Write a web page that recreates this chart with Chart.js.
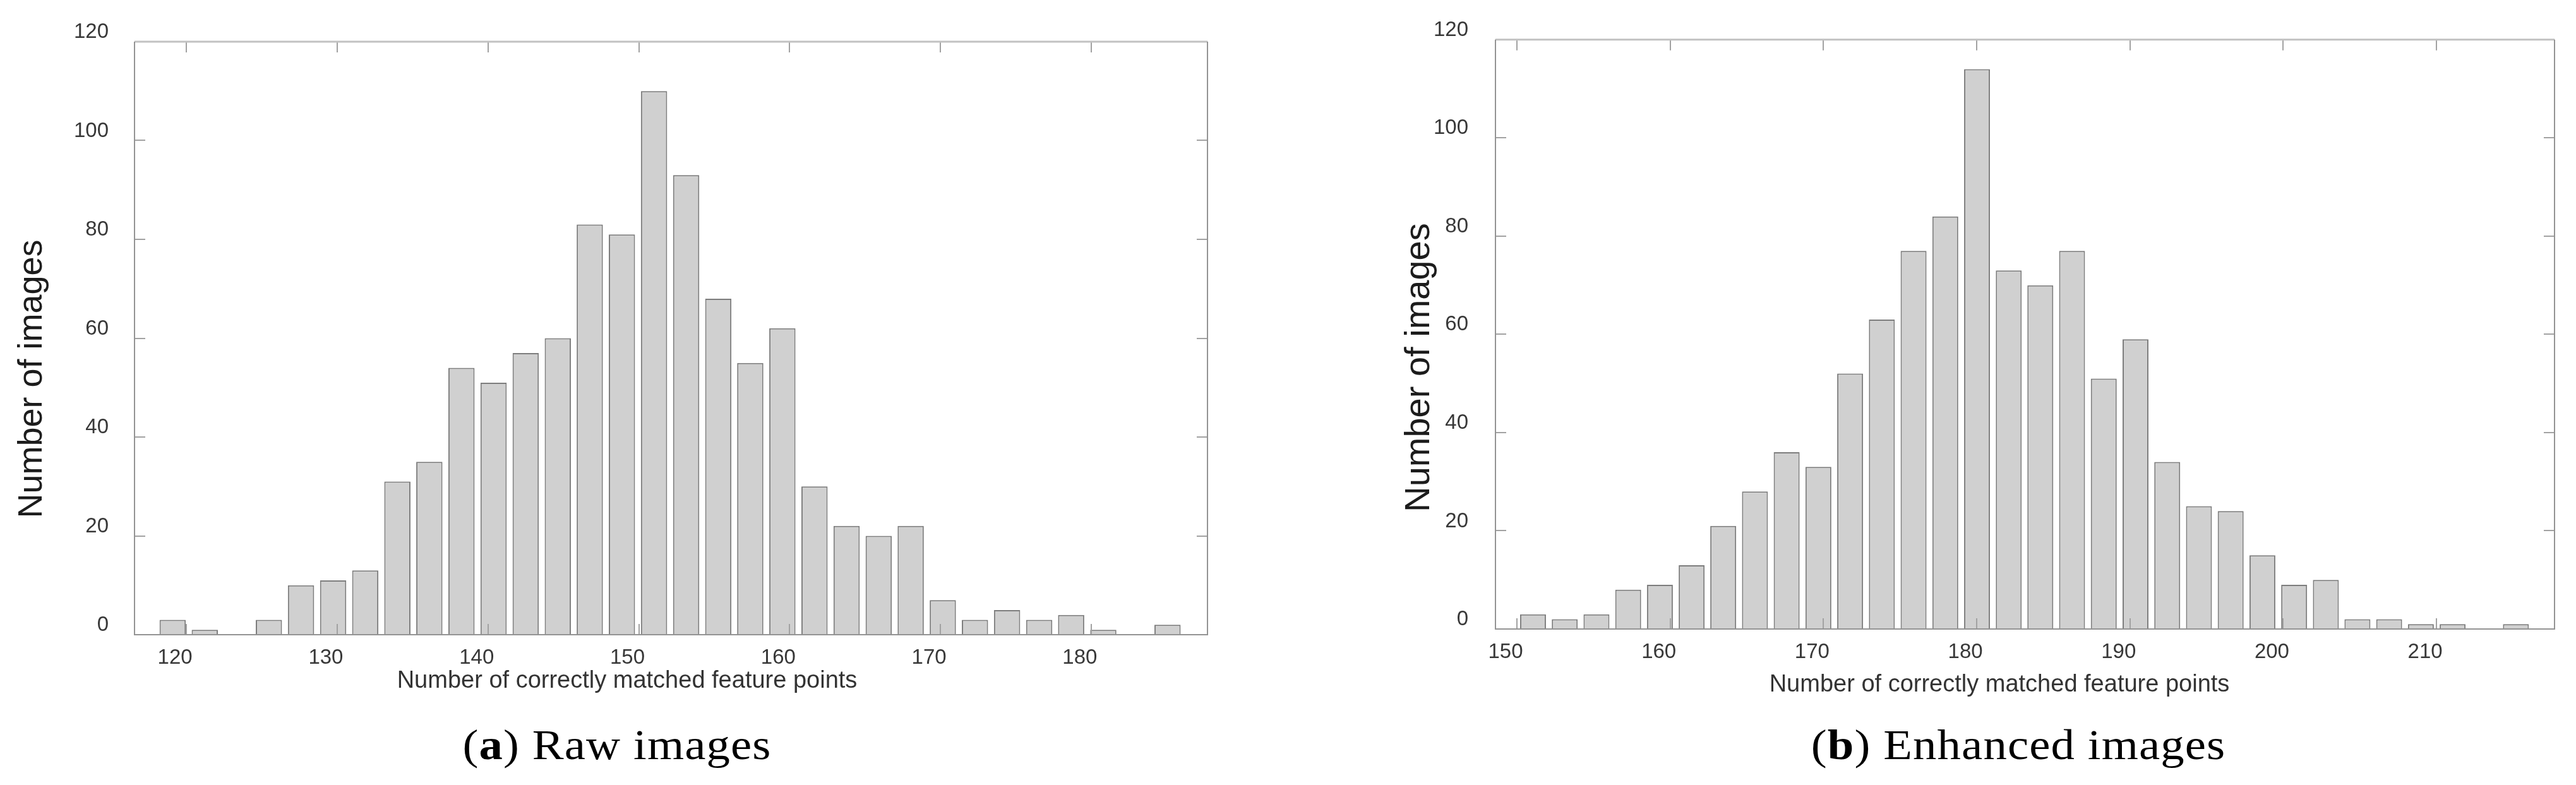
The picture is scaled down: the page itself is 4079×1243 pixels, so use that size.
<!DOCTYPE html>
<html>
<head>
<meta charset="utf-8">
<script src="https://cdn.jsdelivr.net/npm/chart.js@4.4.1/dist/chart.umd.min.js"></script>
<style>
  html, body { margin: 0; padding: 0; background: #fff; }
  body { width: 4079px; height: 1243px; position: relative; overflow: hidden; }
  canvas { position: absolute; top: 0; }
  #chartRaw { left: 0; }
  #chartEnh { left: 2040px; }
  .caption {
    position: absolute; top: 1145px;
    font-family: "Liberation Serif", "DejaVu Serif", serif;
    font-size: 68px; line-height: 68px; color: #000;
    white-space: nowrap; letter-spacing: 1px;
    transform: translateX(-50%) scaleX(1.1);
  }
</style>
</head>
<body>
<canvas id="chartRaw" width="2000" height="1243"></canvas>
<canvas id="chartEnh" width="2039" height="1243"></canvas>
<div class="caption" style="left:977px">(<b>a</b>) Raw images</div>
<div class="caption" style="left:3196px">(<b>b</b>) Enhanced images</div>
<script>
// (a) raw images: bin centres and counts
const binsRaw = [119.09, 121.22, 123.35, 125.47, 127.60, 129.73, 131.86, 133.99,
  136.11, 138.24, 140.37, 142.50, 144.63, 146.75, 148.88, 151.01, 153.14, 155.27,
  157.39, 159.52, 161.65, 163.78, 165.91, 168.03, 170.16, 172.29, 174.42, 176.55,
  178.67, 180.80, 182.93, 185.06];
const countsRaw = [3, 1, 0, 3, 10, 11, 13, 31, 35, 54, 51, 57, 60, 83, 81, 110,
  93, 68, 55, 62, 30, 22, 20, 22, 7, 3, 5, 3, 4, 1, 0, 2];

// (b) enhanced images
const binsEnh = [151.05, 153.12, 155.19, 157.26, 159.33, 161.40, 163.46, 165.53,
  167.60, 169.67, 171.74, 173.81, 175.88, 177.95, 180.02, 182.09, 184.15, 186.22,
  188.29, 190.36, 192.43, 194.50, 196.57, 198.64, 200.71, 202.78, 204.84, 206.91,
  208.98, 211.05, 213.12, 215.18];
const countsEnh = [3, 2, 3, 8, 9, 13, 21, 28, 36, 33, 52, 63, 77, 84, 114, 73,
  70, 77, 51, 59, 34, 25, 24, 15, 9, 10, 2, 2, 1, 1, 0, 1];

const xTicksRaw = [120, 130, 140, 150, 160, 170, 180];
const xTicksEnh = [150, 160, 170, 180, 190, 200, 210];
const yTicks = [0, 20, 40, 60, 80, 100, 120];

const yTitle = "Number of images";
const xTitle = "Number of correctly matched feature points";

const tickFont = { family: "'Liberation Sans', Arial, sans-serif", size: 33 };

// box around the plot, inward tick marks and the two axis titles
const frameTicks = {
  id: "frameTicks",
  afterDraw(chart, args, opts) {
    const { ctx, chartArea: a } = chart;
    const xs = chart.scales.x, ys = chart.scales.y;
    const len = 17;
    ctx.save();
    ctx.strokeStyle = "#a2a2a2";
    ctx.lineWidth = 2;
    ctx.beginPath();
    xs.ticks.forEach(t => {
      const px = Math.round(xs.getPixelForValue(t.value));
      ctx.moveTo(px, a.bottom); ctx.lineTo(px, a.bottom - len);
      ctx.moveTo(px, a.top); ctx.lineTo(px, a.top + len);
    });
    ys.ticks.forEach(t => {
      const py = Math.round(ys.getPixelForValue(t.value));
      ctx.moveTo(a.left, py); ctx.lineTo(a.left + len, py);
      ctx.moveTo(a.right, py); ctx.lineTo(a.right - len, py);
    });
    ctx.stroke();

    ctx.strokeStyle = "#c2c2c2";
    ctx.lineWidth = 3;
    ctx.beginPath();
    ctx.moveTo(a.left, a.top); ctx.lineTo(a.right, a.top);
    ctx.stroke();
    ctx.strokeStyle = "#939393";
    ctx.lineWidth = 2;
    ctx.beginPath();
    ctx.moveTo(a.right, a.top); ctx.lineTo(a.right, a.bottom);
    ctx.lineTo(a.left, a.bottom); ctx.lineTo(a.left, a.top);
    ctx.stroke();

    ctx.textAlign = "center";
    ctx.textBaseline = "alphabetic";
    ctx.fillStyle = "#333";
    ctx.font = "38px 'Liberation Sans', Arial, sans-serif";
    ctx.fillText(xTitle, opts.xTitleX, opts.xTitleY);

    ctx.fillStyle = "#1c1c1c";
    ctx.font = opts.yTitleSize + "px 'Liberation Sans', Arial, sans-serif";
    ctx.translate(opts.yTitleX, opts.yTitleY);
    ctx.rotate(-Math.PI / 2);
    ctx.fillText(yTitle, 0, 0);
    ctx.restore();
  }
};

function makeHist(id, bins, counts, xTicks, cfg) {
  return new Chart(document.getElementById(id), {
    type: "bar",
    data: {
      datasets: [{
        data: bins.map((x, i) => ({ x: x, y: counts[i] })),
        backgroundColor: "#d0d0d0",
        borderColor: "#7d7d7d",
        borderWidth: 2,
        categoryPercentage: 1,
        barPercentage: 0.82,
      }],
    },
    options: {
      responsive: false,
      animation: false,
      layout: { padding: { left: 0, top: cfg.top, right: cfg.right, bottom: 0 } },
      scales: {
        x: {
          type: "linear",
          min: cfg.xMin,
          max: cfg.xMax,
          offset: false,
          afterBuildTicks: s => { s.ticks = xTicks.map(v => ({ value: v })); },
          afterFit: s => { s.height = cfg.xHeight; },
          grid: { display: false, drawTicks: false, offset: false },
          border: { display: false },
          ticks: {
            font: tickFont,
            color: "#383838",
            padding: 17,
            labelOffset: -18,
            maxRotation: 0,
            autoSkip: false,
          },
        },
        y: {
          min: 0,
          max: 120,
          afterBuildTicks: s => { s.ticks = yTicks.map(v => ({ value: v })); },
          afterFit: s => { s.width = cfg.yWidth; },
          grid: { display: false, drawTicks: false },
          border: { display: false },
          ticks: {
            font: tickFont,
            color: "#383838",
            padding: cfg.yPad,
            labelOffset: -15,
          },
        },
      },
      plugins: {
        legend: { display: false },
        tooltip: { enabled: false },
        frameTicks: cfg.titles,
      },
    },
    plugins: [frameTicks],
  });
}

makeHist("chartRaw", binsRaw, countsRaw, xTicksRaw, {
  top: 66, right: 88, xHeight: 238, yWidth: 213, yPad: 41,
  xMin: 116.56, xMax: 187.71,
  titles: { xTitleX: 993, xTitleY: 1089, yTitleX: 66, yTitleY: 600, yTitleSize: 54 },
});

makeHist("chartEnh", binsEnh, countsEnh, xTicksEnh, {
  top: 60, right: 34, xHeight: 247, yWidth: 328, yPad: 43,
  xMin: 148.6, xMax: 217.7,
  titles: { xTitleX: 1126, xTitleY: 1095, yTitleX: 223, yTitleY: 582, yTitleSize: 56 },
});
</script>
</body>
</html>
